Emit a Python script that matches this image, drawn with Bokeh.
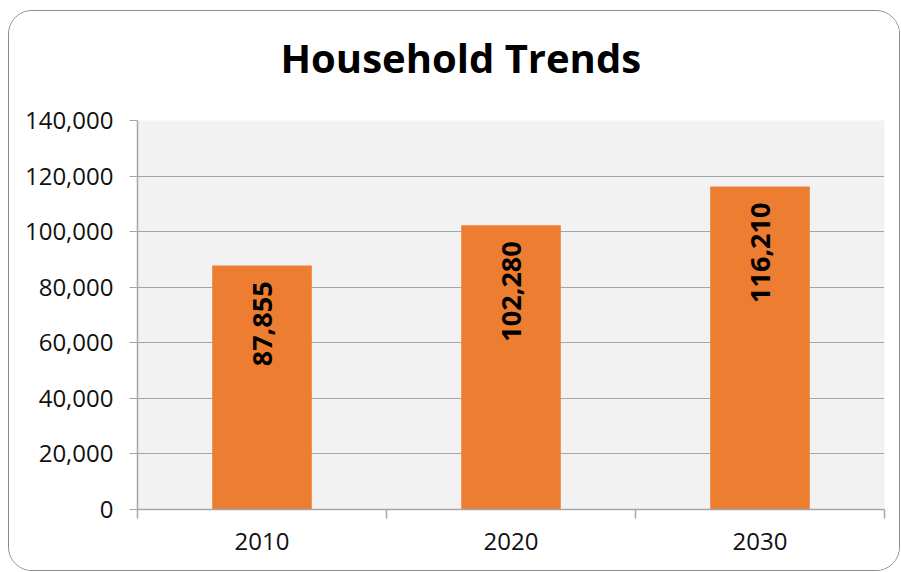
import math
from bokeh.plotting import figure
from bokeh.models import Range1d, FixedTicker, NumeralTickFormatter, ColumnDataSource, Title
from bokeh.core.properties import value
from bokeh.embed import file_html
from bokeh.resources import INLINE

title_text = "Household Trends"
years = ["2010", "2020", "2030"]
households = [87855, 102280, 116210]
y_ticks = [0, 20000, 40000, 60000, 80000, 100000, 120000, 140000]

xs = [i + 0.5 for i in range(len(years))]
labels = [f"{v:,}" for v in households]
src = ColumnDataSource(dict(x=xs, top=households, label=labels))

FONT = "Open Sans"

p = figure(width=892, height=561, output_backend="svg", toolbar_location=None,
           x_range=Range1d(0, len(years)), y_range=Range1d(0, 140000),
           min_border_left=128, min_border_right=17, min_border_bottom=63, min_border_top=10,
           background_fill_color="#F2F2F2", border_fill_color="white",
           outline_line_color=None,
           styles={"border": "1.5px solid #8c8c8c", "border-radius": "24px",
                   "overflow": "hidden", "margin": "10px 0 0 8px"})

p.title.visible = False
# spacer between title and plot area (added first, so it sits next to the frame)
spacer = Title(text=" ", text_font=FONT, text_font_size="10px", standoff=0)
p.add_layout(spacer, "above")
t = Title(text=title_text, text_font=FONT, text_font_size="40px", text_font_style="bold",
          text_color="#000000", align="left", offset=143, standoff=36, vertical_align="top")
p.add_layout(t, "above")

p.vbar(x="x", top="top", width=0.4, source=src, fill_color="#ED7D31", line_color=None)
p.text(x="x", y="top", text="label", source=src, angle=math.pi / 2, y_offset=16,
       text_align="right", text_baseline="middle", text_font=value(FONT),
       text_font_size="27px", text_font_style="bold", text_color="#000000")

# y axis
p.yaxis.ticker = FixedTicker(ticks=y_ticks)
p.yaxis.formatter = NumeralTickFormatter(format="0,0")
p.yaxis.major_label_text_font = FONT
p.yaxis.major_label_text_font_size = "24px"
p.yaxis.major_label_text_color = "#111111"
p.yaxis.major_tick_out = 8
p.yaxis.major_tick_in = 0
p.yaxis.minor_tick_out = 0
p.yaxis.minor_tick_in = 0
p.yaxis.major_label_standoff = 16
p.yaxis.axis_line_color = "#A6A6A6"
p.yaxis.major_tick_line_color = "#A6A6A6"
p.yaxis.axis_line_width = 1.5

# x axis
p.xaxis.ticker = FixedTicker(ticks=xs, minor_ticks=list(range(len(years) + 1)))
p.xaxis.major_label_overrides = {x: y for x, y in zip(xs, years)}
p.xaxis.major_label_text_font = FONT
p.xaxis.major_label_text_font_size = "24px"
p.xaxis.major_label_text_color = "#111111"
p.xaxis.major_tick_out = 0
p.xaxis.major_tick_in = 0
p.xaxis.minor_tick_out = 9
p.xaxis.minor_tick_in = 0
p.xaxis.minor_tick_line_color = "#A6A6A6"
p.xaxis.minor_tick_line_width = 1.5
p.xaxis.axis_line_color = "#A6A6A6"
p.xaxis.axis_line_width = 1.5
p.xaxis.major_label_standoff = 14

p.xgrid.grid_line_color = None
p.ygrid.ticker = FixedTicker(ticks=y_ticks)
p.ygrid.grid_line_color = "#A6A6A6"
p.ygrid.grid_line_width = 1.2

open("out.html", "w").write(file_html(p, INLINE))
